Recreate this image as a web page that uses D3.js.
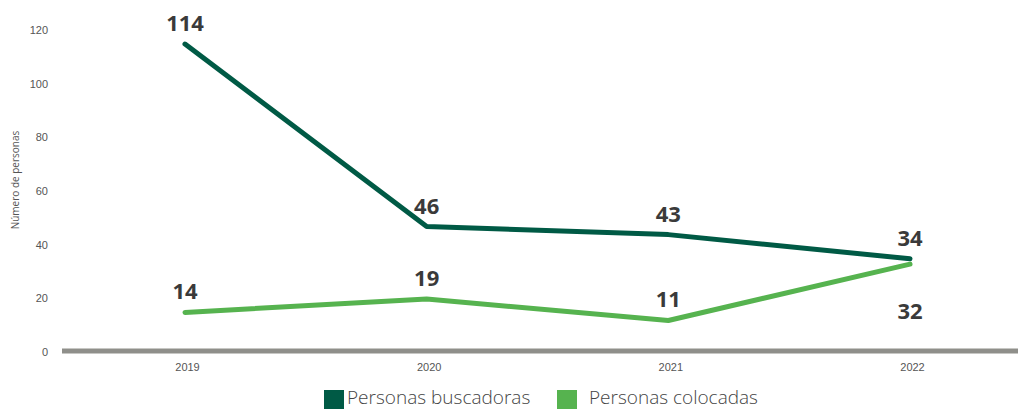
<!DOCTYPE html>
<html>
<head>
<meta charset="utf-8">
<script src="https://cdn.jsdelivr.net/npm/d3@7"></script>
<style>
body { margin: 0; background: #fff; }
svg { display: block; font-family: "Open Sans", sans-serif; }
.axis text { fill: #555; font-size: 11px; }
.lbl { fill: #3a3a3a; font-size: 22px; font-weight: 700; font-family: "Open Sans", sans-serif; }
.legend text { fill: #444; font-size: 19px; font-weight: 300; }
</style>
</head>
<body>
<script>
var years = ["2019", "2020", "2021", "2022"];
var buscadoras = [114, 46, 43, 34];
var colocadas = [14, 19, 11, 32];
var yTicks = [0, 20, 40, 60, 80, 100, 120];
var seriesNames = ["Personas buscadoras", "Personas colocadas"];
var colors = ["#005a45", "#56b34f"];

var width = 1018, height = 409;

var svg = d3.select("body").append("svg")
    .attr("width", width)
    .attr("height", height);

var x = d3.scalePoint()
    .domain(years)
    .range([185, 910]);

var y = d3.scaleLinear()
    .domain([0, 120])
    .range([350, 28]);

// y axis labels only, no line
var yAxis = d3.axisLeft(y).tickValues(yTicks).tickSize(0).tickPadding(0);
svg.append("g")
    .attr("class", "axis")
    .attr("transform", "translate(48,2)")
    .call(yAxis)
    .call(function(g) { g.select(".domain").remove(); });

svg.append("text")
    .attr("transform", "translate(19," + 180 + ") rotate(-90)")
    .attr("text-anchor", "middle")
    .style("font-size", "10px")
    .style("fill", "#555")
    .text("Número de personas");

// baseline
svg.append("line")
    .attr("x1", 62).attr("x2", width)
    .attr("y1", y(0) + 1).attr("y2", y(0) + 1)
    .style("stroke", "#8f8f8a")
    .style("stroke-width", 5);

var xAxis = d3.axisBottom(x).tickSize(0).tickPadding(0);
svg.append("g")
    .attr("class", "axis")
    .attr("transform", "translate(2,363)")
    .call(xAxis)
    .call(function(g) { g.select(".domain").remove(); });

var line = d3.line()
    .x(function(d, i) { return x(years[i]); })
    .y(function(d) { return y(d); });

[buscadoras, colocadas].forEach(function(vals, k) {
    svg.append("path")
        .datum(vals)
        .attr("d", line)
        .style("fill", "none")
        .style("stroke", colors[k])
        .style("stroke-width", 5)
        .style("stroke-linecap", "round")
        .style("stroke-linejoin", "round");
});

// value labels
function addLabels(vals, below) {
    svg.selectAll(null)
        .data(vals)
        .enter()
        .append("text")
        .attr("class", "lbl")
        .attr("text-anchor", "middle")
        .attr("x", function(d, i) { return x(years[i]); })
        .attr("y", function(d, i) { return below[i] ? y(d) + 55 : y(d) - 13; })
        .text(function(d) { return d; });
}
addLabels(buscadoras, [false, false, false, false]);
addLabels(colocadas, [false, false, false, true]);

// legend
var legend = svg.append("g").attr("class", "legend");
var legendX = [324, 557];
seriesNames.forEach(function(name, k) {
    legend.append("rect")
        .attr("x", legendX[k]).attr("y", 390)
        .attr("width", 20).attr("height", 20)
        .style("fill", colors[k]);
    legend.append("text")
        .attr("x", legendX[k] + 23 + (k == 1 ? 9 : 0))
        .attr("y", 404)
        .text(name);
});
</script>
</body>
</html>
